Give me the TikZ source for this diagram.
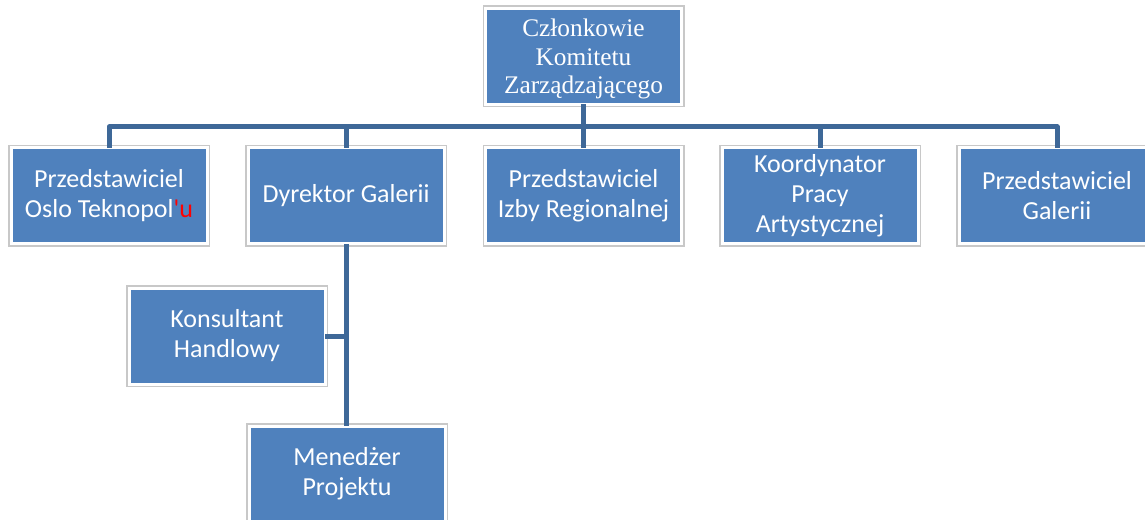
\documentclass[tikz,border=0pt]{standalone}
\usepackage{fontspec}
\setmainfont{Carlito}[Ligatures=TeXOff]
\newfontfamily\timesfont{Liberation Serif}
\definecolor{boxblue}{RGB}{79,129,189}
\definecolor{linkblue}{RGB}{62,104,152}
\definecolor{framegray}{RGB}{200,200,200}
\tikzset{
  orgbox/.style = {rectangle, fill=boxblue, draw=white, line width=2.25pt,
    preaction={draw=framegray, line width=4.5pt},
    minimum width=147pt, minimum height=72pt, inner sep=0pt, outer sep=0pt,
    align=center, text=white, font=\fontsize{19.5}{22.5}\selectfont},
  link/.style = {draw=linkblue, line width=3.75pt, line join=round}
}
\begin{document}
\begin{tikzpicture}[x = 0.75pt, y = -0.75pt]
\useasboundingbox (0,0) rectangle (1145,520);
%
\node[orgbox, font=\timesfont\fontsize{19}{21.4}\selectfont, text depth=0pt] (top) at (583.5,56.5) {Członkowie\\Komitetu\\Zarządzającego};
%
\node[orgbox] (oslo) at (109,196) {Przedstawiciel\\Oslo Teknopol\textcolor{red}{'u}};
\node[orgbox] (dyr) at (346,196) {Dyrektor Galerii};
\node[orgbox] (izba) at (583.5,196) {Przedstawiciel\\Izby Regionalnej};
\node[orgbox] (koord) at (820,196) {Koordynator\\Pracy\\Artystycznej};
\node[orgbox] (gal) at (1057,196) {Przedstawiciel\\Galerii};
%
\node[orgbox] (kons) at (227,336) {Konsultant\\Handlowy};
\node[orgbox] (mgr) at (347,474) {Menedżer\\Projektu};
%
\coordinate (bar) at (583.5,127);
\draw[link] (top.south) -- (bar);
\foreach \b in {oslo,dyr,izba,koord,gal}
  \draw[link] (bar) -| (\b.north);
\draw[link] (dyr.south) -- (dyr.south |- mgr.north);
\draw[link] (kons.east) -- (kons.east -| dyr.south);
\end{tikzpicture}
\end{document}
